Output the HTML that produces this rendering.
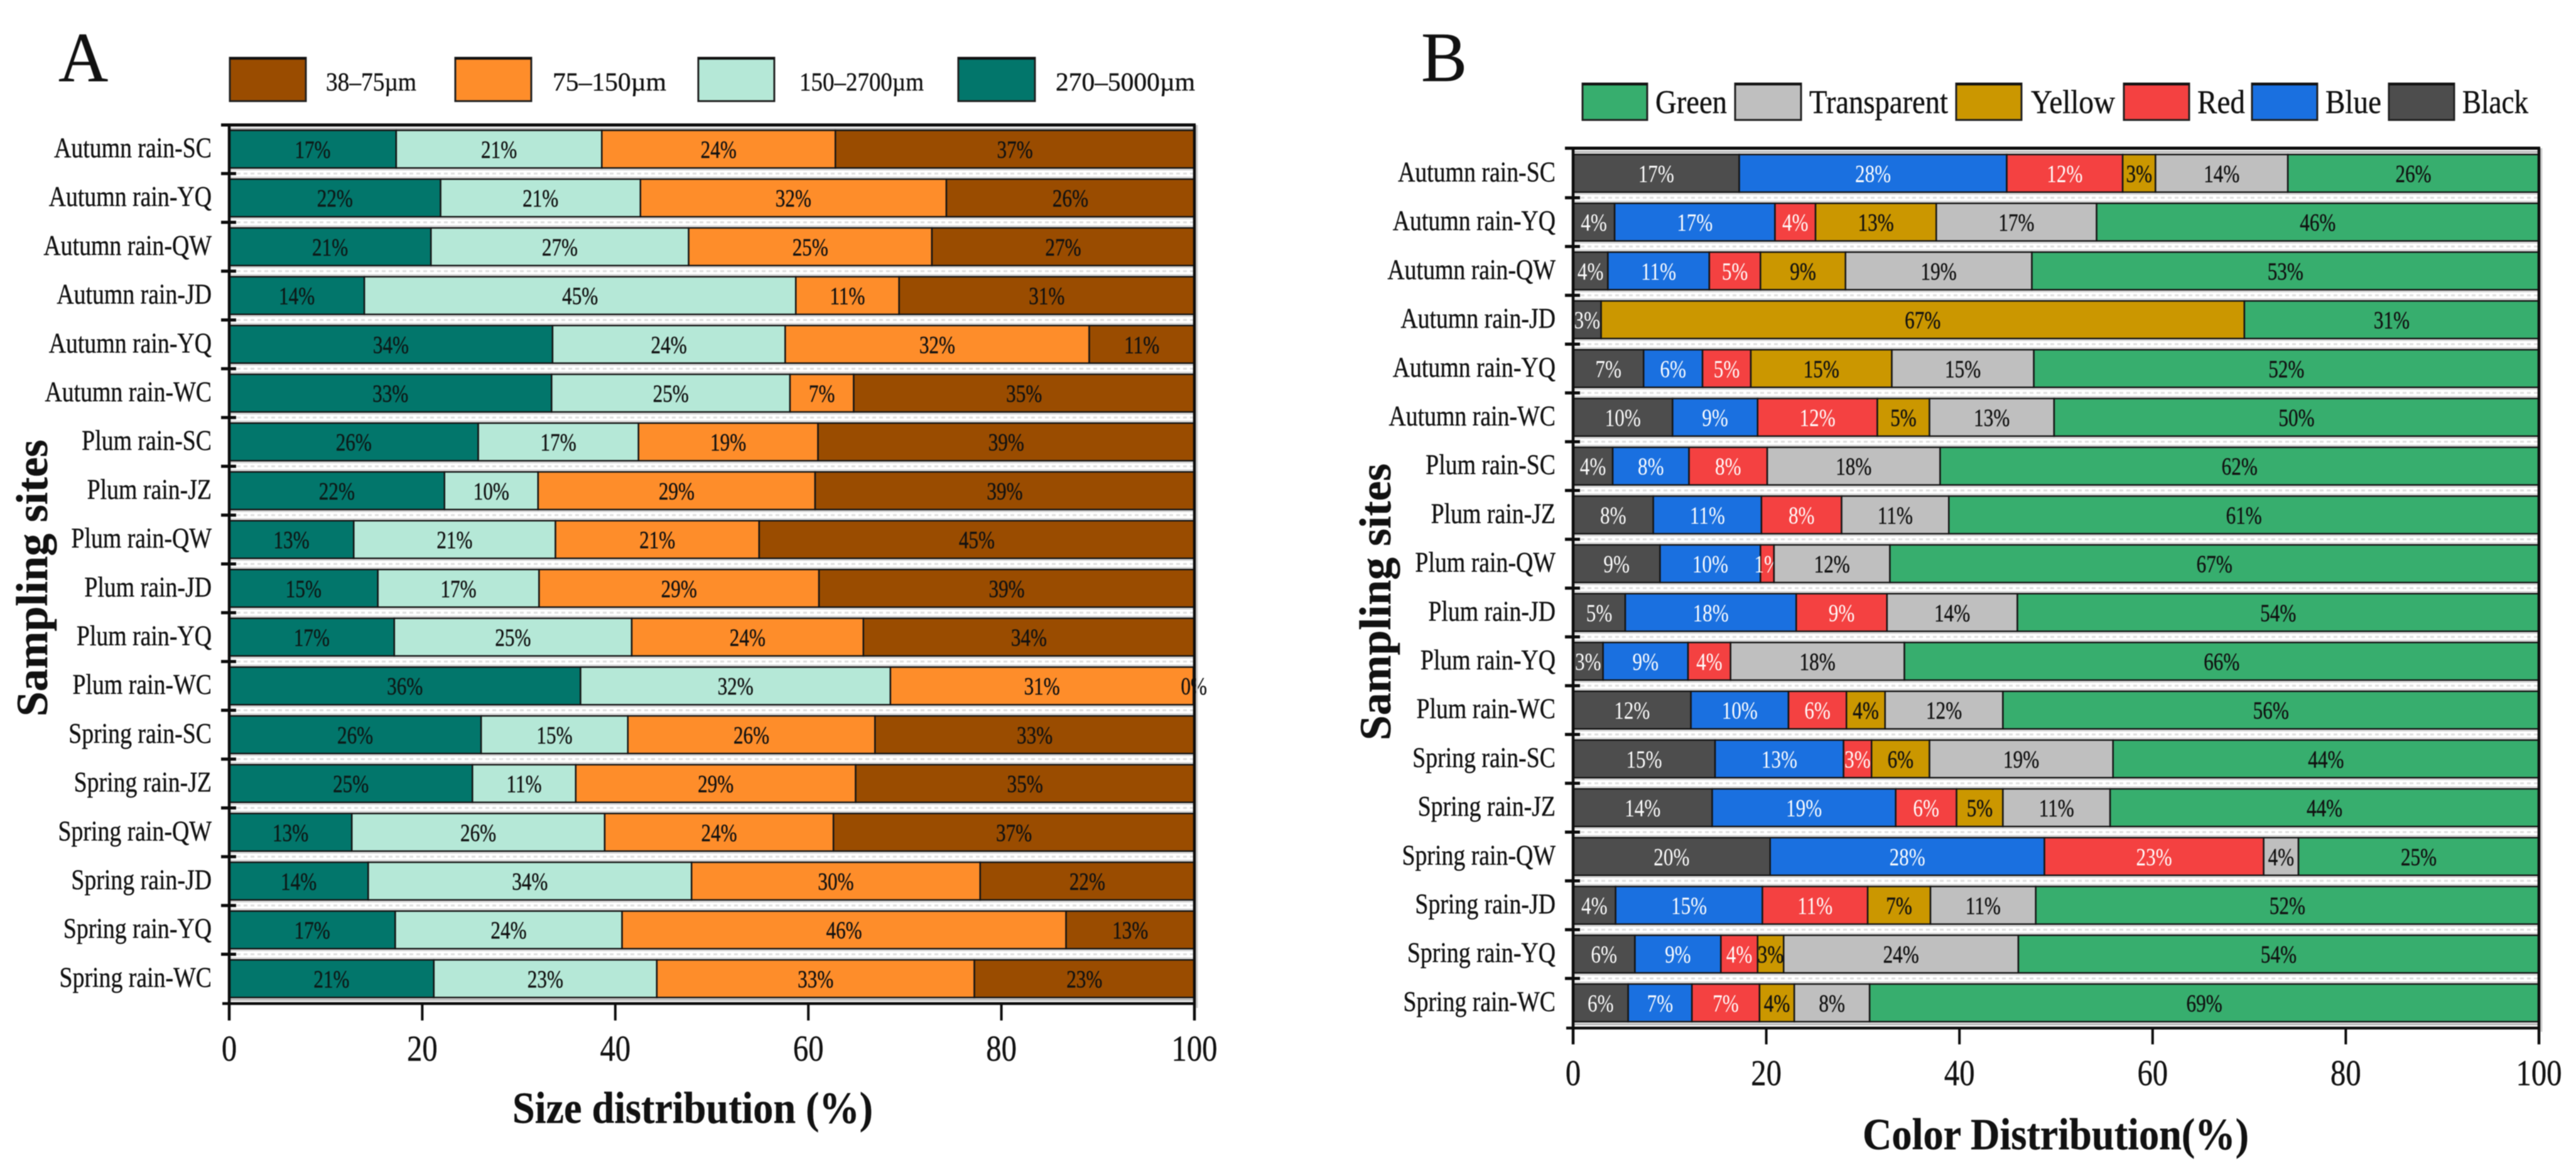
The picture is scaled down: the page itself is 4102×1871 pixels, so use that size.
<!DOCTYPE html>
<html lang="en">
<head>
<meta charset="utf-8">
<title>Size and color distribution by sampling site</title>
<style>
html,body{margin:0;padding:0;background:#fff;width:4102px;height:1871px;overflow:hidden}
svg{display:block;filter:blur(0.7px)}
text{font-family:"Liberation Serif",serif;fill:#111;stroke:#111;stroke-width:0.4px}
text.light{stroke:none}
</style>
</head>
<body>
<svg id="figure" xmlns="http://www.w3.org/2000/svg" width="4102" height="1871" viewBox="0 0 4102 1871"></svg>
<script>
var categories = ["Autumn rain-SC","Autumn rain-YQ","Autumn rain-QW","Autumn rain-JD","Autumn rain-YQ","Autumn rain-WC","Plum rain-SC","Plum rain-JZ","Plum rain-QW","Plum rain-JD","Plum rain-YQ","Plum rain-WC","Spring rain-SC","Spring rain-JZ","Spring rain-QW","Spring rain-JD","Spring rain-YQ","Spring rain-WC"];
var xTicks = [0,20,40,60,80,100];

var size270to5000 = [17.3,21.9,20.9,14,33.5,33.4,25.8,22.3,12.9,15.4,17.1,36.4,26.1,25.2,12.7,14.4,17.2,21.2];
var size150to2700 = [21.3,20.7,26.7,44.7,24.1,24.7,16.6,9.7,20.9,16.7,24.6,32.1,15.2,10.7,26.2,33.5,23.5,23.1];
var size75to150 = [24.2,31.7,25.2,10.7,31.5,6.6,18.6,28.7,21.1,29,24,31.4,25.6,29,23.7,29.9,46,32.9];
var size38to75 = [37.2,25.7,27.2,30.6,10.9,35.3,39,39.3,45.1,38.9,34.3,0.1,33.1,35.1,37.4,22.2,13.3,22.8];

var colorBlack = [17.2,4.3,3.6,2.9,7.3,10.3,4.1,8.3,9,5.4,3.1,12.2,14.7,14.4,20.4,4.4,6.4,5.7];
var colorBlue = [27.7,16.6,10.5,0,6.1,8.8,7.9,11.2,10.4,17.7,8.8,10.1,13.3,19,28.4,15.2,8.9,6.6];
var colorRed = [12,4.2,5.3,0,5,12.4,8.1,8.3,1.4,9.4,4.4,6,2.9,6.3,22.7,10.9,3.8,7];
var colorYellow = [3.4,12.5,8.8,66.6,14.6,5.4,0,0,0,0,0,4,6,4.8,0,6.5,2.7,3.6];
var colorTransparent = [13.7,16.6,19.3,0,14.7,12.9,17.9,11.1,12,13.5,18,12.2,19,11.1,3.6,10.9,24.3,7.8];
var colorGreen = [26,45.8,52.5,30.5,52.3,50.2,62,61.1,67.2,54,65.7,55.5,44.1,44.4,24.9,52.1,53.9,69.3];

var sizeSeries = [
  {key:"270-5000um",values:size270to5000,fill:"#02766b",text:"#0c1a18"},
  {key:"150-2700um",values:size150to2700,fill:"#b5e8d7",text:"#111"},
  {key:"75-150um",values:size75to150,fill:"#fe8d2a",text:"#111"},
  {key:"38-75um",values:size38to75,fill:"#9a4c00",text:"#111"}
];
var colorSeries = [
  {key:"black",values:colorBlack,fill:"#4d4d4d",text:"#fff"},
  {key:"blue",values:colorBlue,fill:"#1a70e0",text:"#fff"},
  {key:"red",values:colorRed,fill:"#f44141",text:"#fff"},
  {key:"yellow",values:colorYellow,fill:"#cb9700",text:"#111"},
  {key:"transparent",values:colorTransparent,fill:"#bfbfbf",text:"#111"},
  {key:"green",values:colorGreen,fill:"#37ae6e",text:"#111"}
];

var NS = "http://www.w3.org/2000/svg";
var root = document.getElementById("figure");

function make(parent, tag, props) {
  var el = document.createElementNS(NS, tag);
  for (var k in props) { el.setAttribute(k, props[k]); }
  parent.appendChild(el);
  return el;
}
function line(parent, x1, y1, x2, y2, stroke, w, dash) {
  var props = {x1:x1, y1:y1, x2:x2, y2:y2, stroke:stroke, "stroke-width":w};
  if (dash) { props["stroke-dasharray"] = dash; }
  return make(parent, "line", props);
}
function label(parent, str, x, y, size, anchor, sx, weight, fill) {
  var t = make(parent, "text", {
    transform:"translate(" + x + "," + y + ") scale(" + sx + ",1)",
    "font-size":size, "text-anchor":anchor, "font-weight":weight || "normal"
  });
  if (fill) {
    t.style.fill = fill;
    if (fill === "#fff") { t.setAttribute("class", "light"); }
  }
  t.textContent = str;
  return t;
}
function fitted(parent, str, x, y, size, width, weight) {
  var t = make(parent, "text", {
    x:x, y:y, "font-size":size, "font-weight":weight || "normal",
    textLength:width, lengthAdjust:"spacingAndGlyphs"
  });
  t.textContent = str;
  return t;
}

function drawPanel(cfg) {
  var g = make(root, "g", {});
  
  

  var xScale = function (v) { return cfg.x0 + v * (cfg.x100 - cfg.x0) / 100; };
  var yTop = function (i) { return cfg.firstBarTop + i * cfg.pitch; };
  var left = cfg.x0, right = cfg.x100;

  // gap bands between bars
  var bands = make(g, "g", {});
  
  
  for (var b = 0; b < categories.length - 1; b++) {
    var by = yTop(b) + cfg.barH;
    var mid = by + (cfg.pitch - cfg.barH) / 2;
    line(bands, left, by + 3, right, by + 3, "#c4c4c4", 1.5);
    line(bands, left, by + cfg.pitch - cfg.barH - 3, right, by + cfg.pitch - cfg.barH - 3, "#c4c4c4", 1.5);
    line(bands, left + 12, mid, right, mid, "#dedede", 3, "6 5");
  }
  line(bands, left, cfg.axisTop + 6, right, cfg.axisTop + 6, "#b8b8b8", 3);
  line(bands, left, cfg.axisBottom - 6, right, cfg.axisBottom - 6, "#b8b8b8", 3);

  // stacked bars
  categories.forEach(function (cat, i) {
    var row = make(g, "g", {});
    
    
    var cum = 0;
    cfg.series.forEach(function (s) {
      var v = s.values[i];
      if (v > 0) {
        var x1 = xScale(cum), x2 = xScale(cum + v);
        var r = make(row, "rect", {
          x:x1, y:yTop(i), width:x2 - x1, height:cfg.barH,
          fill:s.fill, stroke:"#141414", "stroke-width":2.5
        });
        
        
        var t = label(row, Math.round(v) + "%", (x1 + x2) / 2, yTop(i) + cfg.barH / 2 + 13.5, 39, "middle", 0.8, "normal", s.text);
        
        
      }
      cum += v;
    });
    var cl = label(g, cat, cfg.x0 - 28, yTop(i) + cfg.barH / 2 + 13, 45, "end", 0.84);
    
    
  });

  // axes
  var axes = make(g, "g", {});
  
  
  line(axes, right + 4, cfg.axisTop, right + 4, cfg.tickBottom - 20, "#cfcfcf", 3);
  line(axes, left - 13, cfg.axisTop, right + 2, cfg.axisTop, "#0c0c0c", 5);
  line(axes, left - 11, cfg.axisBottom, right + 2, cfg.axisBottom, "#0c0c0c", 4.5);
  line(axes, left, cfg.axisTop, left, cfg.tickBottom, "#0c0c0c", 4.5);
  line(axes, right, cfg.axisTop, right, cfg.tickBottom, "#0c0c0c", 4.5);
  for (var k = 0; k < categories.length - 1; k++) {
    var ty = yTop(k) + cfg.barH + (cfg.pitch - cfg.barH) / 2;
    line(axes, left - 13, ty, left + 11, ty, "#0c0c0c", 5);
  }
  xTicks.forEach(function (tv) {
    var tx = xScale(tv);
    line(axes, tx, cfg.axisBottom, tx, cfg.tickBottom, "#0c0c0c", 4);
    var lb = label(g, String(tv), tx, cfg.xLabelY, 58, "middle", 0.84);
    
    
  });

  // titles
  var panelLetter = label(g, cfg.letter, cfg.letterX, 129, 112, "start", 0.98);
  
  

  var xt = fitted(g, cfg.xTitle, cfg.xTitleX, cfg.xTitleY, 71, cfg.xTitleW, "bold");
  
  

  var yt = make(g, "text", {
    transform:"translate(" + cfg.yTitleX + "," + cfg.yTitleBottom + ") rotate(-90)",
    "font-size":71, "font-weight":"bold", textLength:441, lengthAdjust:"spacingAndGlyphs"
  });
  yt.textContent = "Sampling sites";
  
  

  // legend
  cfg.legend.forEach(function (e) {
    var lg = make(g, "g", {});
    
    
    var sw = make(lg, "rect", {
      x:e.sx, y:cfg.legendTop, width:e.sw, height:cfg.legendH,
      fill:e.fill, stroke:"#222", "stroke-width":3
    });
    
    
    line(lg, e.sx, cfg.legendTop + 1, e.sx + e.sw, cfg.legendTop + 1, "#111", 4);
    var tx = fitted(lg, e.text, e.tx, cfg.legendBase, cfg.legendFont, e.tw);
    
    
  });
}

drawPanel({
  name:"panel-a-size-distribution", letter:"A", letterX:93,
  series:sizeSeries, x0:365, x100:1902, firstBarTop:207.5, pitch:77.7, barH:60,
  axisTop:199, axisBottom:1598, tickBottom:1625, xLabelY:1689,
  xTitle:"Size distribution (%)", xTitleX:816, xTitleY:1788, xTitleW:574,
  yTitleX:75, yTitleBottom:1141,
  legendTop:92, legendH:69, legendBase:144, legendFont:41,
  legend:[
    {sx:366,sw:121,fill:"#9a4c00",text:"38\u201375\u00b5m",tx:519,tw:144},
    {sx:725,sw:121,fill:"#fe8d2a",text:"75\u2013150\u00b5m",tx:880,tw:181},
    {sx:1112,sw:121,fill:"#b5e8d7",text:"150\u20132700\u00b5m",tx:1273,tw:198},
    {sx:1526,sw:122,fill:"#02766b",text:"270\u20135000\u00b5m",tx:1681,tw:222}
  ]
});

drawPanel({
  name:"panel-b-color-distribution", letter:"B", letterX:2263,
  series:colorSeries, x0:2505, x100:4043, firstBarTop:246, pitch:77.7, barH:60,
  axisTop:236, axisBottom:1637, tickBottom:1663, xLabelY:1728,
  xTitle:"Color Distribution(%)", xTitleX:2966, xTitleY:1830, xTitleW:615,
  yTitleX:2214, yTitleBottom:1179,
  legendTop:133, legendH:58, legendBase:180, legendFont:53,
  legend:[
    {sx:2520,sw:103,fill:"#37ae6e",text:"Green",tx:2636,tw:114},
    {sx:2763,sw:105,fill:"#bfbfbf",text:"Transparent",tx:2881,tw:221},
    {sx:3115,sw:104,fill:"#cb9700",text:"Yellow",tx:3234,tw:134},
    {sx:3382,sw:104,fill:"#f44141",text:"Red",tx:3499,tw:76},
    {sx:3586,sw:104,fill:"#1a70e0",text:"Blue",tx:3703,tw:89},
    {sx:3804,sw:104,fill:"#4d4d4d",text:"Black",tx:3921,tw:105}
  ]
});
</script>
</body>
</html>
